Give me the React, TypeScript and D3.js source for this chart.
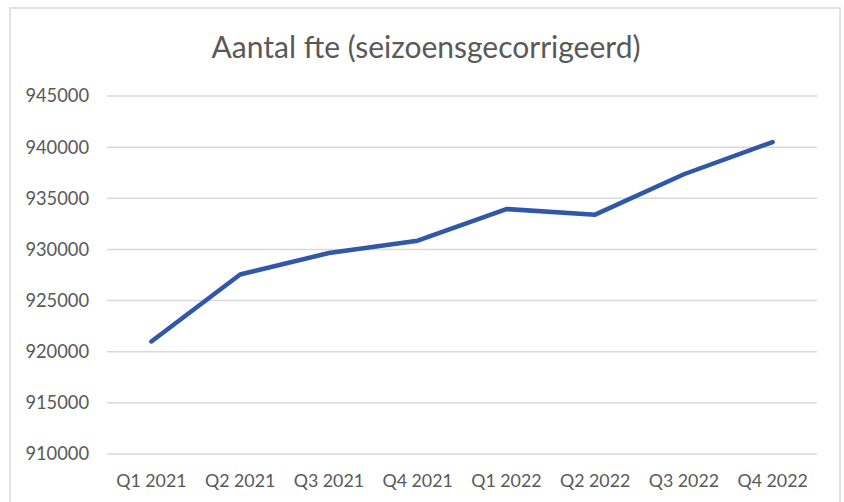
import React, { useRef, useEffect } from "react";
import * as d3 from "d3";

const quarters = ["Q1 2021", "Q2 2021", "Q3 2021", "Q4 2021", "Q1 2022", "Q2 2022", "Q3 2022", "Q4 2022"];
const fte = [921000, 927550, 929650, 930850, 933950, 933400, 937350, 940500];
const yTicks = [910000, 915000, 920000, 925000, 930000, 935000, 940000, 945000];
const title = "Aantal fte (seizoensgecorrigeerd)";

const W = 844;
const H = 502;

const App = () => {
  const ref = useRef<SVGSVGElement>(null);

  useEffect(() => {
    const svg = d3.select(ref.current);
    svg.selectAll("*").remove();

    const margin = { top: 96, right: 27, bottom: 48, left: 107 };
    const width = W - margin.left - margin.right;
    const height = H - margin.top - margin.bottom;
    const font = "Lato, 'Open Sans', sans-serif";
    const textColor = "#595959";

    svg.append("rect").attr("width", W).attr("height", H).attr("fill", "#fff");
    // chart frame
    svg
      .append("rect")
      .attr("x", 10)
      .attr("y", 8)
      .attr("width", 830)
      .attr("height", H + 10)
      .attr("fill", "none")
      .attr("stroke", "#d9d9d9")
      .attr("stroke-width", 1.5);

    svg
      .append("text")
      .attr("x", 426)
      .attr("y", 58)
      .attr("text-anchor", "middle")
      .attr("font-family", font)
      .attr("font-size", 30)
      .attr("fill", textColor)
      .text(title);

    const g = svg.append("g").attr("transform", `translate(${margin.left},${margin.top})`);

    const x = d3.scaleBand().domain(quarters).range([0, width]);
    const y = d3.scaleLinear().domain([910000, 945000]).range([height, 0]);

    // gridlines
    g.append("g")
      .selectAll("line")
      .data(yTicks)
      .enter()
      .append("line")
      .attr("x1", 0)
      .attr("x2", width)
      .attr("y1", (d) => y(d))
      .attr("y2", (d) => y(d))
      .attr("stroke", "#d9d9d9")
      .attr("stroke-width", 1.5);

    const yAxis = g.append("g").call(d3.axisLeft(y).tickValues(yTicks).tickSize(0).tickPadding(18).tickFormat((d) => String(d)));
    yAxis.select(".domain").remove();
    yAxis.selectAll("text").attr("font-family", font).attr("font-size", 18.3).attr("fill", textColor);

    const xAxis = g
      .append("g")
      .attr("transform", `translate(0,${height})`)
      .call(d3.axisBottom(x).tickSize(0).tickPadding(20));
    xAxis.select(".domain").remove();
    xAxis.selectAll("text").attr("font-family", font).attr("font-size", 17.8).attr("fill", textColor);

    const line = d3
      .line<number>()
      .x((d, i) => (x(quarters[i]) as number) + x.bandwidth() / 2)
      .y((d) => y(d));

    g.append("path")
      .datum(fte)
      .attr("d", line)
      .attr("fill", "none")
      .attr("stroke", "#3057a8")
      .attr("stroke-width", 4.5)
      .attr("stroke-linejoin", "round")
      .attr("stroke-linecap", "round");
  }, []);

  return <svg ref={ref} width={W} height={H} style={{ display: "block", position: "absolute", left: 0, top: 0 }} />;
};

export default App;
